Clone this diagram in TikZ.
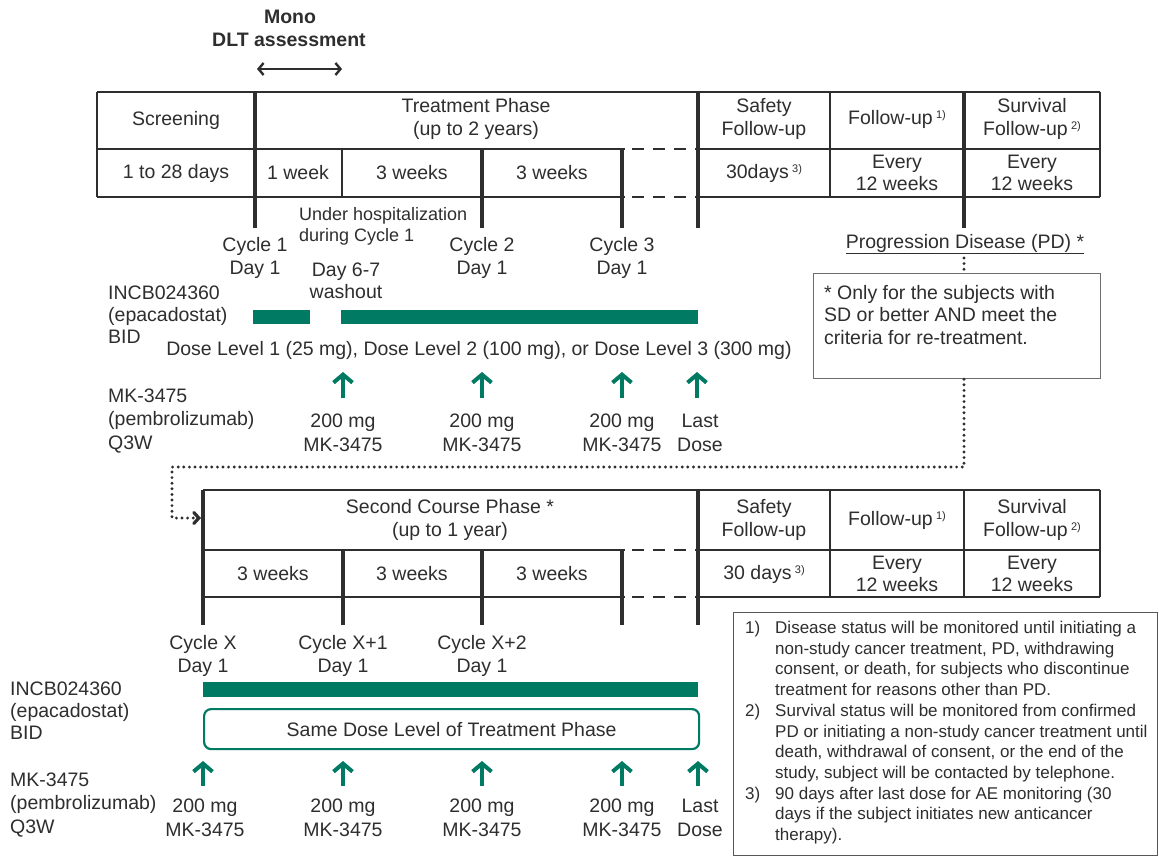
\documentclass[tikz,border=0pt]{standalone}
\usepackage{fontspec}
\setmainfont{Liberation Sans}
\usetikzlibrary{arrows.meta}
\definecolor{ink}{HTML}{2E2E2E}
\definecolor{teal}{HTML}{007A62}
\newcommand\mf{\fontsize{19.5}{22.5}\selectfont}
\newcommand\ff{\fontsize{17}{20.7}\selectfont}
\newcommand\sups[1]{\raisebox{6pt}{\fontsize{11}{11}\selectfont #1}}
\tikzset{
  tbl/.style={draw=ink,line width=2.6pt},
  tick/.style={draw=ink,line width=3.2pt},
  dsh/.style={draw=ink,line width=2.6pt,dash pattern=on 12pt off 9pt},
  lbl/.style={inner sep=0pt,text=ink,font=\mf,align=center},
  lbll/.style={inner sep=0pt,text=ink,font=\mf,align=left,anchor=west},
  bar/.style={fill=teal,draw=none},
  dose/.style={draw=teal,line width=4pt,-{Straight Barb[length=8pt,width=19pt]}},
  dots/.style={draw=ink,line width=3.2pt,line cap=round,dash pattern=on 0pt off 5.6pt},
  fn/.style={inner sep=0pt,text=ink,font=\ff,align=left,anchor=north west},
}
\begin{document}
\begin{tikzpicture}[x=1pt,y=-1pt]
\useasboundingbox[fill=white] (0,0) rectangle (1159,856);
% ---------- top header
\node[lbl,font=\mf\bfseries] (mono) at (290,17) {Mono};
\node[lbl,font=\mf\bfseries] (dlt) at (289,40) {DLT assessment};
\coordinate (dltA) at (257,69);
\coordinate (dltB) at (342,69);
\draw[ink,line width=2.4pt,{Straight Barb[length=5pt,width=12pt]}-{Straight Barb[length=5pt,width=12pt]}] (dltA) -- (dltB);
% ---------- top table
\draw[tbl] (97,92) -- (1100,92);
\draw[tbl] (97,149) -- (625,149);
\draw[dsh] (632,149) -- (698,149);
\draw[tbl] (698,149) -- (1100,149);
\draw[tbl] (97,197) -- (625,197);
\draw[dsh] (632,197) -- (698,197);
\draw[tbl] (698,197) -- (1100,197);
\draw[tbl] (97,92) -- (97,197);
\draw[tbl] (342,149) -- (342,197);
\draw[tbl] (830,92) -- (830,197);
\draw[tbl] (1100,92) -- (1100,197);
\draw[tick] (255,92) -- (255,228);
\draw[tick] (482,149) -- (482,228);
\draw[tick] (622,149) -- (622,228);
\draw[tick] (698,92) -- (698,228);
\draw[tick] (964,92) -- (964,228);
\node[lbl] (scr) at (176,120) {Screening};
\node[lbl] (tp) at (476,119) {Treatment Phase\\(up to 2 years)};
\node[lbl] (sf) at (764,119) {Safety\\Follow-up};
\node[lbl] (fu) at (897,119) {Follow-up\,\sups{1)}};
\node[lbl] (sv) at (1032,119) {Survival\\Follow-up\,\sups{2)}};
\node[lbl] (d28) at (176,173) {1 to 28 days};
\node[lbl] (w1) at (298,173) {1 week};
\node[lbl] (w3a) at (412,173) {3 weeks};
\node[lbl] (w3b) at (552,173) {3 weeks};
\node[lbl] (d30) at (764,173) {30days\,\sups{3)}};
\node[lbl] (e12a) at (897,173) {Every\\12 weeks};
\node[lbl] (e12b) at (1032,173) {Every\\12 weeks};
% ---------- below top table
\node[lbl,font=\fontsize{18}{21}\selectfont,align=left,anchor=west] (hosp) at (299,226) {Under hospitalization\\during Cycle 1};
\node[lbl] (c1) at (255,258) {Cycle 1\\Day 1};
\node[lbl] (c2) at (482,258) {Cycle 2\\Day 1};
\node[lbl] (c3) at (622,258) {Cycle 3\\Day 1};
\node[lbl] (wash) at (346,281) {Day 6-7\\washout};
\node[lbl] (pd) at (965,244) {\underline{Progression Disease (PD) *}};
\node[draw=ink!70,line width=1.2pt,minimum width=287pt,minimum height=105pt,anchor=north west,inner sep=0pt] (pdbox) at (813,273) {};
\node[lbl,align=left,anchor=north west] (pdtxt) at (824,285) {* Only for the subjects with\\SD or better AND meet the\\criteria for re-treatment.};
\node[lbll,font=\fontsize{19.5}{22}\selectfont] (incb1) at (108,315) {INCB024360\\(epacadostat)\\BID};
\fill[bar] (253,310) rectangle (310,324);
\fill[bar] (341,310) rectangle (698,324);
\node[lbl] (dl) at (479,350) {Dose Level 1 (25 mg), Dose Level 2 (100 mg), or Dose Level 3 (300 mg)};
\node[lbll,font=\fontsize{19.5}{23.5}\selectfont] (mk1) at (108,421) {MK-3475\\(pembrolizumab)\\Q3W};
\foreach \x/\n in {343/a,482/b,622/c,697/d}{
  \coordinate (t\n0) at (\x,398);
  \coordinate (t\n1) at (\x,372);
  \draw[dose] (t\n0) -- (t\n1);
}
\node[lbl,font=\fontsize{19.5}{24}\selectfont] (m1a) at (343,433) {200 mg\\MK-3475};
\node[lbl,font=\fontsize{19.5}{24}\selectfont] (m1b) at (482,433) {200 mg\\MK-3475};
\node[lbl,font=\fontsize{19.5}{24}\selectfont] (m1c) at (622,433) {200 mg\\MK-3475};
\node[lbl,font=\fontsize{19.5}{24}\selectfont] (m1d) at (700,433) {Last\\Dose};
% ---------- dotted connector
\coordinate (pdA) at (964,258);
\coordinate (pdB) at (964,467);
\coordinate (pdC) at (172,467);
\coordinate (pdD) at (172,518);
\coordinate (pdE) at (201,518);
\draw[dots] (pdA) -- (pdbox.north -| pdA);
\draw[dots,-{Straight Barb[length=5pt,width=11pt,line cap=round]}] (pdbox.south -| pdA) -- (pdB) -- (pdC) -- (pdD) -- (pdE);
% ---------- second table
\draw[tbl] (203,490) -- (1100,490);
\draw[tbl] (203,550) -- (625,550);
\draw[dsh] (632,550) -- (698,550);
\draw[tbl] (698,550) -- (1100,550);
\draw[tbl] (203,597) -- (625,597);
\draw[dsh] (632,597) -- (698,597);
\draw[tbl] (698,597) -- (1100,597);
\draw[tbl] (830,490) -- (830,597);
\draw[tbl] (964,490) -- (964,597);
\draw[tbl] (1100,490) -- (1100,597);
\draw[tick] (203,490) -- (203,625);
\draw[tick] (343,550) -- (343,625);
\draw[tick] (482,550) -- (482,625);
\draw[tick] (622,550) -- (622,625);
\draw[tick] (698,490) -- (698,625);
\node[lbl] (scp) at (450,520) {Second Course Phase *\\(up to 1 year)};
\node[lbl] (sf2) at (764,520) {Safety\\Follow-up};
\node[lbl] (fu2) at (897,520) {Follow-up\,\sups{1)}};
\node[lbl] (sv2) at (1032,520) {Survival\\Follow-up\,\sups{2)}};
\node[lbl] (w3c) at (273,574) {3 weeks};
\node[lbl] (w3d) at (412,574) {3 weeks};
\node[lbl] (w3e) at (552,574) {3 weeks};
\node[lbl] (d30b) at (764,574) {30 days\,\sups{3)}};
\node[lbl] (e12c) at (897,574) {Every\\12 weeks};
\node[lbl] (e12d) at (1032,574) {Every\\12 weeks};
\node[lbl] (cx) at (203,656) {Cycle X\\Day 1};
\node[lbl] (cx1) at (343,656) {Cycle X+1\\Day 1};
\node[lbl] (cx2) at (482,656) {Cycle X+2\\Day 1};
\node[lbll,font=\fontsize{19.5}{22}\selectfont] (incb2) at (10,711) {INCB024360\\(epacadostat)\\BID};
\fill[bar] (203,682) rectangle (698,697);
\node[draw=teal,line width=2.2pt,rounded corners=7pt,minimum width=495pt,minimum height=40pt,inner sep=0pt,anchor=north west] (same) at (203,708) {};
\node[lbl] (sametxt) at (same.center) {Same Dose Level of Treatment Phase};
\node[lbll,font=\fontsize{19.5}{23.5}\selectfont] (mk2) at (10,805) {MK-3475\\(pembrolizumab)\\Q3W};
\foreach \x/\n in {203/a,343/b,482/c,622/d,698/e}{
  \coordinate (u\n0) at (\x,786);
  \coordinate (u\n1) at (\x,761);
  \draw[dose] (u\n0) -- (u\n1);
}
\node[lbl,font=\fontsize{19.5}{24}\selectfont] (m2a) at (205,818) {200 mg\\MK-3475};
\node[lbl,font=\fontsize{19.5}{24}\selectfont] (m2b) at (343,818) {200 mg\\MK-3475};
\node[lbl,font=\fontsize{19.5}{24}\selectfont] (m2c) at (482,818) {200 mg\\MK-3475};
\node[lbl,font=\fontsize{19.5}{24}\selectfont] (m2d) at (622,818) {200 mg\\MK-3475};
\node[lbl,font=\fontsize{19.5}{24}\selectfont] (m2e) at (700,818) {Last\\Dose};
% ---------- footnotes
\node[draw=ink!80,line width=1.3pt,minimum width=424pt,minimum height=243pt,anchor=north west,inner sep=0pt] (fnbox) at (733,612) {};
\node[fn] (fn1n) at (745,621) {1)};
\node[fn] (fn1) at (775,621) {Disease status will be monitored until initiating a\\non-study cancer treatment, PD, withdrawing\\consent, or death, for subjects who discontinue\\treatment for reasons other than PD.};
\node[fn] (fn2n) at (745,703.8) {2)};
\node[fn] (fn2) at (775,703.8) {Survival status will be monitored from confirmed\\PD or initiating a non-study cancer treatment until\\death, withdrawal of consent, or the end of the\\study, subject will be contacted by telephone.};
\node[fn] (fn3n) at (745,786.6) {3)};
\node[fn] (fn3) at (775,786.6) {90 days after last dose for AE monitoring (30\\days if the subject initiates new anticancer\\therapy).};
\end{tikzpicture}
\end{document}
